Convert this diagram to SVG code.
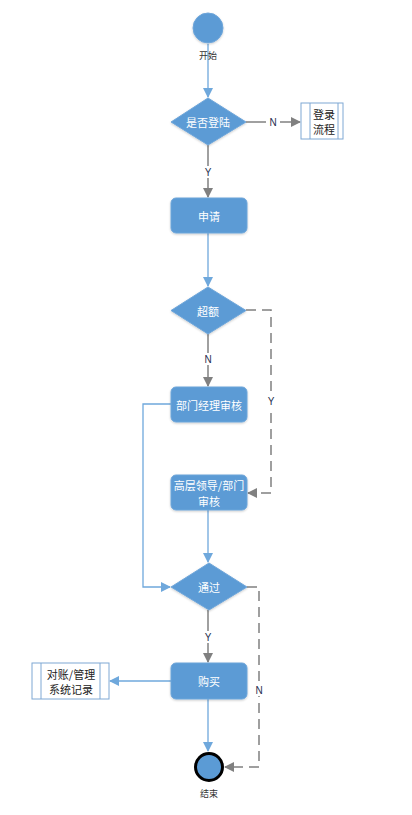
<svg xmlns="http://www.w3.org/2000/svg" width="412" height="815" viewBox="0 0 412 815">
<style>
.shape{fill:#5b9bd5;stroke:#6fa6da;stroke-width:1}
.lbl{font-family:"Noto Sans CJK SC","Noto Sans",sans-serif;font-size:11px;fill:#ffffff;text-anchor:middle;dominant-baseline:central}
.cap{font-family:"Noto Sans CJK SC","Noto Sans",sans-serif;font-size:9px;fill:#333333;text-anchor:middle;dominant-baseline:central}
.box{fill:#ffffff;stroke:#7fa8d4;stroke-width:1}
.boxt{font-family:"Noto Sans CJK SC","Noto Sans",sans-serif;font-size:11px;fill:#222222;text-anchor:middle;dominant-baseline:central}
.blue{fill:none;stroke:#6fa8dc;stroke-width:1.3}
.gray{fill:none;stroke:#808080;stroke-width:1.5}
.dash{fill:none;stroke:#808080;stroke-width:1.5;stroke-dasharray:10,6}
.yn{font-family:"Liberation Sans",Arial,sans-serif;font-size:10px;fill:#1f2f4f;text-anchor:middle;dominant-baseline:central}
</style>
<defs>
<marker id="ab" markerWidth="10" markerHeight="10" refX="9" refY="5" orient="auto" markerUnits="userSpaceOnUse"><path d="M0,0 L10,5 L0,10 z" fill="#6fa8dc"/></marker>
<marker id="ag" markerWidth="10" markerHeight="10" refX="9" refY="5" orient="auto" markerUnits="userSpaceOnUse"><path d="M0,0 L10,5 L0,10 z" fill="#808080"/></marker>
<filter id="sh" x="-20%" y="-20%" width="140%" height="150%"><feDropShadow dx="0" dy="1" stdDeviation="1.2" flood-color="#000" flood-opacity="0.2"/></filter>
</defs>
<g id="connectors">
<line class="blue" x1="208" y1="44" x2="208" y2="97" marker-end="url(#ab)"/>
<line class="gray" x1="246" y1="122" x2="300" y2="122" marker-end="url(#ag)"/>
<rect x="266" y="116" width="14" height="12" fill="#ffffff"/>
<text class="yn" x="273" y="122">N</text>
<line class="gray" x1="208" y1="145" x2="208" y2="197" marker-end="url(#ag)"/>
<rect x="203" y="166" width="10" height="12" fill="#ffffff"/>
<text class="yn" x="208" y="172">Y</text>
<line class="blue" x1="208" y1="233" x2="208" y2="286" marker-end="url(#ab)"/>
<line class="gray" x1="208" y1="334" x2="208" y2="386" marker-end="url(#ag)"/>
<rect x="203" y="353" width="10" height="12" fill="#ffffff"/>
<text class="yn" x="208" y="359">N</text>
<polyline class="dash" points="246,310 271,310 271,493 248,493" marker-end="url(#ag)"/>
<rect x="266" y="395" width="10" height="12" fill="#ffffff"/>
<text class="yn" x="271" y="401">Y</text>
<line class="blue" x1="208" y1="510" x2="208" y2="562" marker-end="url(#ab)"/>
<polyline class="blue" points="171,404 143,404 143,587 170,587" marker-end="url(#ab)"/>
<line class="gray" x1="208" y1="610" x2="208" y2="662" marker-end="url(#ag)"/>
<rect x="203" y="631" width="10" height="12" fill="#ffffff"/>
<text class="yn" x="208" y="637">Y</text>
<polyline class="dash" points="247,587 259,587 259,767 225,767" marker-end="url(#ag)"/>
<rect x="254" y="684" width="10" height="12" fill="#ffffff"/>
<text class="yn" x="259" y="690">N</text>
<line class="blue" x1="171" y1="681" x2="110" y2="681" marker-end="url(#ab)"/>
<line class="blue" x1="208" y1="699" x2="208" y2="751" marker-end="url(#ab)"/>
</g>
<g id="start">
<circle class="shape" cx="208" cy="28" r="15" filter="url(#sh)"/>
<text class="cap" x="208" y="55">开始</text>
</g>
<g id="login-check">
<polygon class="shape" points="208,98 246,122 208,145 171,122" filter="url(#sh)"/>
<text class="lbl" x="208" y="122">是否登陆</text>
</g>
<g id="login-flow">
<rect class="box" x="301" y="103" width="42" height="36"/>
<line class="box" x1="310" y1="103" x2="310" y2="139"/>
<line class="box" x1="338" y1="103" x2="338" y2="139"/>
<text class="boxt" x="324" y="113.5">登录</text>
<text class="boxt" x="324" y="129">流程</text>
</g>
<g id="apply">
<rect class="shape" x="171" y="198" width="76" height="35" rx="5" filter="url(#sh)"/>
<text class="lbl" x="209" y="215.5">申请</text>
</g>
<g id="over-limit">
<polygon class="shape" points="208,287 246,310.5 208,334 171,310.5" filter="url(#sh)"/>
<text class="lbl" x="208" y="310.5">超额</text>
</g>
<g id="dept-review">
<rect class="shape" x="171" y="387" width="76" height="35" rx="5" filter="url(#sh)"/>
<text class="lbl" x="209" y="404.5">部门经理审核</text>
</g>
<g id="senior-review">
<rect class="shape" x="171" y="475" width="76" height="35" rx="5" filter="url(#sh)"/>
<text class="lbl" x="209" y="485">高层领导/部门</text>
<text class="lbl" x="209" y="501">审核</text>
</g>
<g id="approved">
<polygon class="shape" points="209,563 247,587 209,610 171,587" filter="url(#sh)"/>
<text class="lbl" x="209" y="587">通过</text>
</g>
<g id="purchase">
<rect class="shape" x="171" y="663" width="76" height="36" rx="5" filter="url(#sh)"/>
<text class="lbl" x="209" y="681">购买</text>
</g>
<g id="record">
<rect class="box" x="32" y="663" width="77" height="36"/>
<line class="box" x1="41" y1="663" x2="41" y2="699"/>
<line class="box" x1="100" y1="663" x2="100" y2="699"/>
<text class="boxt" x="71" y="673.5">对账/管理</text>
<text class="boxt" x="71" y="689">系统记录</text>
</g>
<g id="end">
<circle cx="209" cy="767" r="13.5" fill="#5b9bd5" stroke="#000000" stroke-width="3"/>
<text class="cap" x="209" y="793">结束</text>
</g>
</svg>
